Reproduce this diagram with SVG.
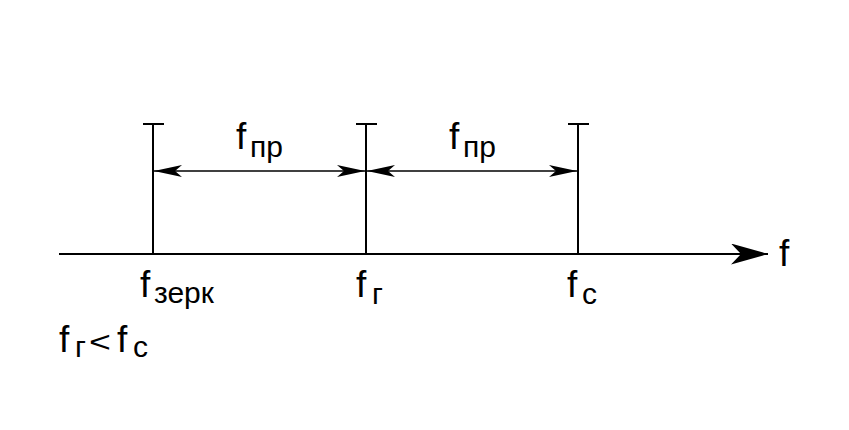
<svg xmlns="http://www.w3.org/2000/svg" width="849" height="430" viewBox="0 0 849 430">
  <style>
    .ln { stroke: #000; stroke-width: 2; fill: none; }
    .dim { stroke: #000; stroke-width: 1.5; fill: none; }
    .lbl { font-family: "Liberation Sans", Arial, sans-serif; fill: #000; }
    .big { font-size: 37px; }
    .sub { font-size: 30px; }
  </style>
  <defs>
    <marker id="dimArrow" markerUnits="userSpaceOnUse" viewBox="0 -6 28 12" refX="28" refY="0" markerWidth="28" markerHeight="12" orient="auto-start-reverse">
      <path d="M0,-6 L28,0 L0,6 L7,0 z" fill="#000"/>
    </marker>
    <marker id="axisArrow" markerUnits="userSpaceOnUse" viewBox="0 -10.5 37 21" refX="37" refY="0" markerWidth="37" markerHeight="21" orient="auto">
      <path d="M0,-10.5 L37,0 L0,10.5 L10,0 z" fill="#000"/>
    </marker>
  </defs>
  <rect width="849" height="430" fill="#fff"/>

  <g id="axis">
    <line class="ln" x1="59" y1="254" x2="768" y2="254" marker-end="url(#axisArrow)"/>
    <text class="lbl big" x="779" y="266">f</text>
  </g>

  <g id="line-fzerk">
    <line class="ln" x1="153" y1="124" x2="153" y2="254"/>
    <line class="ln" x1="143" y1="124" x2="164" y2="124"/>
    <text class="lbl" y="297"><tspan class="big" x="140">f</tspan><tspan class="sub" x="154" y="303">зерк</tspan></text>
  </g>

  <g id="line-fg">
    <line class="ln" x1="366" y1="124" x2="366" y2="254"/>
    <line class="ln" x1="356" y1="124" x2="377" y2="124"/>
    <text class="lbl" y="297"><tspan class="big" x="356">f</tspan><tspan class="sub" x="372" y="304">г</tspan></text>
  </g>

  <g id="line-fc">
    <line class="ln" x1="578" y1="124" x2="578" y2="254"/>
    <line class="ln" x1="568" y1="124" x2="589" y2="124"/>
    <text class="lbl" y="297"><tspan class="big" x="567">f</tspan><tspan class="sub" x="582" y="304">с</tspan></text>
  </g>

  <g id="connectors">
    <line class="dim" x1="154" y1="171" x2="365" y2="171" marker-start="url(#dimArrow)" marker-end="url(#dimArrow)"/>
    <line class="dim" x1="367" y1="171" x2="577" y2="171" marker-start="url(#dimArrow)" marker-end="url(#dimArrow)"/>
  </g>

  <g id="label-fpr1">
    <text class="lbl" y="149"><tspan class="big" x="236">f</tspan><tspan class="sub" x="250" y="157">пр</tspan></text>
  </g>
  <g id="label-fpr2">
    <text class="lbl" y="149"><tspan class="big" x="449">f</tspan><tspan class="sub" x="463" y="157">пр</tspan></text>
  </g>

  <g id="condition">
    <text class="lbl" y="352"><tspan class="big" x="59">f</tspan><tspan class="sub" x="75" y="357">г</tspan></text>
    <text class="lbl" transform="translate(89,352) scale(1.25,1)" style="font-size:30px">&lt;</text>
    <text class="lbl" y="352"><tspan class="big" x="117">f</tspan><tspan class="sub" x="133" y="357">с</tspan></text>
  </g>
</svg>
